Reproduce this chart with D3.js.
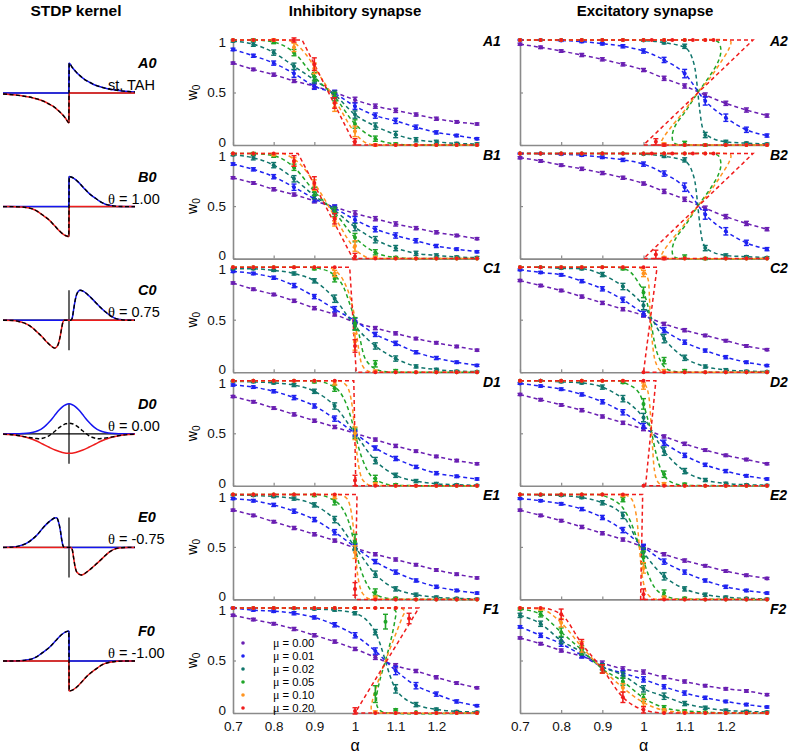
<!DOCTYPE html>
<html><head><meta charset="utf-8">
<script src="https://cdn.jsdelivr.net/npm/d3@7"></script>
<style>
body{margin:0;background:#fff}
svg{display:block}
text{font-family:"Liberation Sans",Arial,sans-serif}
</style>
</head><body>
<svg id="c" width="793" height="754"></svg>
<script>
// ---------------- data ----------------
const alphaGrid = [0.7,0.75,0.8,0.85,0.9,0.95,1.0,1.05,1.1,1.15,1.2,1.25,1.3];
const alphaTicks = [0.7,0.8,0.9,1,1.1,1.2];
const wTicks = [0,0.5,1];
const muValues = ["0.00","0.01","0.02","0.05","0.10","0.20"];
const rowLetters = ["A","B","C","D","E","F"];
const kernelNotes = [["","st. TAH"],["θ"," = 1.00"],["θ"," = 0.75"],["θ"," = 0.00"],["θ"," = -0.75"],["θ"," = -1.00"]];
const columnTitles = ["STDP kernel","Inhibitory synapse","Excitatory synapse"];

// ---- A1 ----
const A1_w = [
 [0.78,0.72,0.67,0.61,0.56,0.5,0.43,0.37,0.33,0.29,0.25,0.22,0.2],
 [0.91,0.85,0.78,0.68,0.56,0.49,0.37,0.28,0.23,0.17,0.12,0.09,0.06],
 [0.99,0.96,0.88,0.75,0.62,0.48,0.29,0.18,0.1,0.05,0.03,0.015,0.01],
 [1,1,0.98,0.88,0.65,0.46,0.2,0.06,0.01,0,0,0,0],
 [1,1,1,0.93,0.73,0.36,0.13,0,0,0,0,0,0],
 [1,1,1,1,0.77,0.4,0.03,0,0,0,0,0,0]];
const A1_e = [
 [0.01,0.012,0.015,0.015,0.02,0.02,0.025,0.02,0.02,0.015,0.015,0.012,0.01],
 [0.012,0.015,0.02,0.035,0.03,0.03,0.03,0.025,0.025,0.02,0.015,0.012,0.01],
 [0.01,0.02,0.025,0.03,0.03,0.035,0.035,0.03,0.03,0.02,0.015,0.01,0.01],
 [0,0.01,0.015,0.03,0.04,0.04,0.04,0.025,0.01,0,0,0,0],
 [0,0,0.01,0.04,0.05,0.04,0.05,0.01,0,0,0,0,0],
 [0,0,0,0.02,0.06,0.05,0.03,0,0,0,0,0,0]];
const A1_c = [null,null,null,null,
 [[0.7,1],[0.83,1],[0.855,0.96],[0.88,0.86],[0.91,0.68],[0.94,0.5],[0.97,0.3],[0.99,0.17],[1.01,0.07],[1.03,0.015],[1.05,0],[1.3,0]],
 [[0.7,1],[0.87,1],[1.0,0],[1.3,0]]];
const A1_x = [];

// ---- B1 ----
const B1_w = [
 [0.77,0.72,0.66,0.61,0.55,0.49,0.43,0.38,0.33,0.29,0.25,0.22,0.19],
 [0.9,0.85,0.78,0.68,0.57,0.48,0.37,0.28,0.22,0.17,0.12,0.09,0.065],
 [0.99,0.96,0.89,0.76,0.6,0.46,0.3,0.18,0.1,0.05,0.03,0.015,0.01],
 [1,1,0.98,0.87,0.64,0.44,0.2,0.06,0.01,0,0,0,0],
 [1,1,0.99,0.92,0.7,0.35,0.12,0.01,0,0,0,0,0],
 [1,1,1,0.93,0.72,0.38,0.02,0,0,0,0,0,0]];
const B1_e = [
 [0.01,0.012,0.015,0.015,0.02,0.02,0.025,0.02,0.02,0.015,0.015,0.012,0.01],
 [0.012,0.015,0.02,0.03,0.03,0.03,0.03,0.025,0.025,0.02,0.015,0.012,0.01],
 [0.01,0.02,0.025,0.03,0.03,0.035,0.035,0.03,0.025,0.02,0.015,0.01,0.01],
 [0,0.01,0.015,0.03,0.04,0.04,0.04,0.025,0.01,0,0,0,0],
 [0,0,0.01,0.04,0.05,0.04,0.05,0.01,0,0,0,0,0],
 [0,0,0,0.05,0.06,0.05,0.03,0,0,0,0,0,0]];
const B1_c = [null,null,null,null,
 [[0.7,1],[0.82,1],[0.845,0.96],[0.87,0.88],[0.9,0.72],[0.935,0.5],[0.96,0.33],[0.98,0.2],[1.0,0.09],[1.02,0.03],[1.04,0],[1.3,0]],
 [[0.7,1],[0.86,1],[0.995,0],[1.3,0]]];
const B1_x = [];

// ---- C1 ----
const C1_w = [
 [0.85,0.79,0.74,0.68,0.61,0.55,0.475,0.42,0.37,0.32,0.28,0.245,0.21],
 [0.96,0.94,0.9,0.825,0.72,0.6,0.49,0.36,0.275,0.19,0.135,0.095,0.065],
 [0.985,0.985,0.97,0.94,0.87,0.7,0.44,0.25,0.13,0.055,0.025,0.01,0.006],
 [1,1,1,1,0.985,0.89,0.46,0.08,0.015,0,0,0,0],
 [1,1,1,1,1,0.94,0.29,0.01,0,0,0,0,0],
 [1,1,1,1,1,1,0.25,0,0,0,0,0,0]];
const C1_e = [
 [0.01,0.012,0.012,0.015,0.015,0.015,0.015,0.015,0.015,0.012,0.012,0.012,0.01],
 [0.01,0.012,0.015,0.02,0.02,0.025,0.025,0.02,0.02,0.015,0.015,0.012,0.01],
 [0.005,0.008,0.01,0.015,0.02,0.035,0.035,0.03,0.025,0.015,0.012,0.008,0.006],
 [0,0,0,0,0.01,0.03,0.06,0.03,0.01,0,0,0,0],
 [0,0,0,0,0,0.03,0.08,0.01,0,0,0,0,0],
 [0,0,0,0,0,0,0.06,0,0,0,0,0,0]];
const C1_c = [null,null,null,
 [[0.7,1],[0.88,1],[0.92,0.98],[0.95,0.92],[0.972,0.81],[0.988,0.64],[1.0,0.5],[1.01,0.36],[1.021,0.17],[1.034,0.08],[1.046,0.04],[1.07,0.008],[1.1,0],[1.3,0]],
 [[0.7,1],[0.93,1],[0.95,0.97],[0.972,0.87],[0.988,0.71],[1.0,0.5],[1.006,0.3],[1.014,0.11],[1.022,0.04],[1.03,0.015],[1.045,0],[1.3,0]],
 [[0.7,1],[0.987,1],[1.003,0],[1.3,0]]];
const C1_x = [];

// ---- D1 ----
const D1_w = [
 [0.85,0.8,0.74,0.68,0.62,0.56,0.5,0.44,0.38,0.33,0.28,0.24,0.21],
 [0.96,0.94,0.9,0.84,0.76,0.64,0.5,0.36,0.26,0.18,0.12,0.09,0.065],
 [0.995,0.99,0.98,0.96,0.9,0.76,0.5,0.24,0.1,0.045,0.02,0.01,0.005],
 [1,1,1,1,0.99,0.93,0.5,0.07,0.01,0,0,0,0],
 [1,1,1,1,1,0.98,0.5,0.02,0,0,0,0,0],
 [1,1,1,1,1,1,0.05,0,0,0,0,0,0]];
const D1_e = [
 [0.01,0.012,0.012,0.015,0.015,0.015,0.015,0.015,0.015,0.012,0.012,0.012,0.01],
 [0.01,0.012,0.015,0.02,0.02,0.025,0.025,0.02,0.02,0.015,0.015,0.012,0.01],
 [0.005,0.008,0.01,0.015,0.02,0.03,0.035,0.03,0.02,0.015,0.012,0.008,0.006],
 [0,0,0,0,0.01,0.03,0.05,0.03,0.01,0,0,0,0],
 [0,0,0,0,0,0.02,0.06,0.01,0,0,0,0,0],
 [0,0,0,0,0,0,0.05,0,0,0,0,0,0]];
const D1_c = [null,null,null,
 [[0.7,1],[0.9,1],[0.94,0.96],[0.97,0.85],[0.99,0.65],[1.0,0.5],[1.01,0.35],[1.03,0.15],[1.06,0.04],[1.1,0.003],[1.3,0]],
 [[0.7,1],[0.96,1],[0.98,0.95],[0.995,0.7],[1.0,0.5],[1.005,0.3],[1.02,0.05],[1.04,0.003],[1.3,0]],
 [[0.7,1],[0.997,1],[1.002,0],[1.3,0]]];
const D1_x = [];

// ---- E1 ----
const E1_w = [
 [0.85,0.8,0.74,0.68,0.62,0.56,0.49,0.43,0.38,0.33,0.28,0.24,0.205],
 [0.96,0.94,0.9,0.84,0.76,0.64,0.5,0.36,0.26,0.18,0.12,0.085,0.06],
 [0.995,0.99,0.98,0.96,0.9,0.76,0.5,0.24,0.1,0.045,0.02,0.01,0.005],
 [1,1,1,1,0.99,0.93,0.55,0.07,0.01,0,0,0,0],
 [1,1,1,1,1,0.98,0.45,0.02,0,0,0,0,0],
 [1,1,1,1,1,1,0.1,0,0,0,0,0,0]];
const E1_e = [
 [0.01,0.012,0.012,0.015,0.015,0.015,0.015,0.015,0.015,0.012,0.012,0.012,0.01],
 [0.01,0.012,0.015,0.02,0.02,0.025,0.025,0.02,0.02,0.015,0.015,0.012,0.01],
 [0.005,0.008,0.01,0.015,0.02,0.03,0.035,0.03,0.02,0.015,0.012,0.008,0.006],
 [0,0,0,0,0.01,0.03,0.07,0.03,0.01,0,0,0,0],
 [0,0,0,0,0,0.02,0.06,0.01,0,0,0,0,0],
 [0,0,0,0,0,0,0.06,0,0,0,0,0,0]];
const E1_c = [null,null,null,
 [[0.7,1],[0.9,1],[0.94,0.96],[0.97,0.86],[0.99,0.67],[1.0,0.5],[1.01,0.34],[1.03,0.14],[1.06,0.03],[1.1,0.002],[1.3,0]],
 [[0.7,1],[0.96,1],[0.98,0.96],[0.994,0.75],[1.0,0.5],[1.006,0.25],[1.02,0.05],[1.04,0.002],[1.3,0]],
 [[0.7,1],[1.005,1],[1.0,0],[1.3,0]]];
const E1_x = [];

// ---- F1 ----
const F1_w = [
 [0.93,0.89,0.85,0.8,0.74,0.68,0.61,0.53,0.45,0.4,0.34,0.285,0.24],
 [1,0.98,0.97,0.95,0.91,0.84,0.74,0.59,0.405,0.26,0.18,0.11,0.07],
 [1,1,1,0.995,0.99,0.98,0.95,0.77,0.23,0.08,0.035,0.015,0.01],
 [1,1,1,1,1,1,1,0.18,0.03,0.01,0,0,0],
 [1,1,1,1,1,1,1,1,1,0,0,0,0],
 [1,1,1,1,1,1,1,1,1,0,0,0,0]];
const F1_e = [
 [0.01,0.012,0.012,0.015,0.015,0.015,0.015,0.02,0.02,0.015,0.015,0.012,0.01],
 [0.005,0.01,0.012,0.015,0.015,0.02,0.025,0.03,0.04,0.03,0.02,0.015,0.01],
 [0,0,0,0.005,0.008,0.01,0.015,0.025,0.04,0.02,0.012,0.008,0.006],
 [0,0,0,0,0,0,0,0.08,0.01,0,0,0,0],
 [0,0,0,0,0,0,0,0,0,0,0,0,0],
 [0,0,0,0,0,0,0,0,0,0,0,0,0]];
const F1_c = [null,null,null,
 [[0.7,1],[1.05,1],[1.085,1],[1.1,0.97],[1.098,0.88],[1.088,0.69],[1.075,0.5],[1.061,0.31],[1.053,0.15],[1.055,0.06],[1.065,0.015],[1.08,0],[1.3,0]],
 [[0.7,1],[1.08,1],[1.112,1],[1.122,0.97],[1.116,0.91],[1.095,0.7],[1.075,0.5],[1.055,0.28],[1.043,0.12],[1.04,0.04],[1.046,0.005],[1.06,0],[1.3,0]],
 [[0.7,1],[1.157,1],[1.0,0],[1.3,0]]];
const F1_x = [[3,1.075,0.87,0.07],[5,1.133,0.9,0.05],[5,1.0,0.02,0.03],[4,1.05,0.01,0.01],[5,1.05,0,0],[4,1.1,0,0],[5,1.1,0,0]];

// ---- A2 ----
const A2_w = [
 [0.96,0.93,0.895,0.857,0.816,0.768,0.714,0.635,0.562,0.476,0.397,0.333,0.28],
 [1,1,0.995,0.985,0.965,0.94,0.895,0.81,0.68,0.42,0.26,0.145,0.09],
 [1,1,1,1,1,1,0.995,0.975,0.94,0.095,0.03,0.018,0.01],
 [1,1,1,1,1,1,1,1,1,0,0,0,0],
 [1,1,1,1,1,1,1,1,1,1,0,0,0],
 [1,1,1,1,1,1,1,1,1,1,0,0,0]];
const A2_e = [
 [0.01,0.012,0.012,0.015,0.015,0.015,0.015,0.02,0.02,0.02,0.02,0.02,0.015],
 [0.005,0.005,0.008,0.01,0.012,0.015,0.02,0.025,0.04,0.04,0.035,0.025,0.015],
 [0,0,0,0,0,0,0.005,0.012,0.02,0.025,0.015,0.01,0.008],
 [0,0,0,0,0,0,0,0,0,0.01,0,0,0],
 [0,0,0,0,0,0,0,0,0,0,0,0,0],
 [0,0,0,0,0,0,0,0,0,0,0,0,0]];
const A2_c = [null,null,
 [[0.7,1],[0.95,1],[1.0,0.995],[1.05,0.975],[1.1,0.93],[1.118,0.83],[1.127,0.68],[1.132,0.5],[1.137,0.32],[1.143,0.17],[1.155,0.09],[1.2,0.03],[1.25,0.018],[1.3,0.01]],
 [[0.7,1],[1.1,1],[1.165,1],[1.182,0.98],[1.188,0.905],[1.183,0.81],[1.163,0.67],[1.132,0.5],[1.102,0.32],[1.078,0.19],[1.07,0.095],[1.072,0.03],[1.082,0.004],[1.1,0],[1.3,0]],
 [[0.7,1],[1.1,1],[1.2,1],[1.212,0.985],[1.208,0.92],[1.188,0.79],[1.16,0.63],[1.132,0.5],[1.098,0.32],[1.065,0.16],[1.047,0.06],[1.043,0.02],[1.05,0.002],[1.07,0],[1.3,0]],
 [[0.7,1],[1.266,1],[1.0,0],[1.3,0]]];
const A2_x = [[3,1.1,0.015,0.02],[4,1.05,0.01,0.01],[4,1.1,0,0],[4,1.15,0,0],[5,1.03,0.03,0.03],[5,1.05,0,0.01],[5,1.1,0,0],[5,1.15,0,0],[5,1.02,1,0],[5,1.07,1,0],[5,1.12,1,0],[5,1.17,1,0]];

// ---- B2 ----
const B2_w = [
 [0.96,0.93,0.89,0.855,0.815,0.77,0.715,0.64,0.565,0.48,0.4,0.335,0.28],
 [1,1,0.995,0.985,0.965,0.94,0.9,0.81,0.68,0.42,0.26,0.15,0.09],
 [1,1,1,1,1,1,0.995,0.975,0.94,0.1,0.03,0.018,0.01],
 [1,1,1,1,1,1,1,1,1,0,0,0,0],
 [1,1,1,1,1,1,1,1,1,1,0,0,0],
 [1,1,1,1,1,1,1,1,1,1,0,0,0]];
const B2_e = [
 [0.01,0.012,0.012,0.015,0.015,0.015,0.015,0.02,0.02,0.02,0.02,0.02,0.015],
 [0.005,0.005,0.008,0.01,0.012,0.015,0.02,0.025,0.04,0.045,0.035,0.025,0.015],
 [0,0,0,0,0,0,0.005,0.012,0.02,0.025,0.015,0.01,0.008],
 [0,0,0,0,0,0,0,0,0,0.01,0,0,0],
 [0,0,0,0,0,0,0,0,0,0,0,0,0],
 [0,0,0,0,0,0,0,0,0,0,0,0,0]];
const B2_c = [null,null,
 [[0.7,1],[0.95,1],[1.0,0.995],[1.05,0.975],[1.1,0.93],[1.118,0.83],[1.127,0.68],[1.132,0.5],[1.137,0.32],[1.143,0.17],[1.155,0.09],[1.2,0.03],[1.25,0.018],[1.3,0.01]],
 [[0.7,1],[1.1,1],[1.165,1],[1.182,0.98],[1.188,0.905],[1.183,0.81],[1.163,0.67],[1.132,0.5],[1.102,0.32],[1.078,0.19],[1.07,0.095],[1.072,0.03],[1.082,0.004],[1.1,0],[1.3,0]],
 [[0.7,1],[1.1,1],[1.2,1],[1.212,0.985],[1.208,0.92],[1.188,0.79],[1.16,0.63],[1.132,0.5],[1.098,0.32],[1.065,0.16],[1.047,0.06],[1.043,0.02],[1.05,0.002],[1.07,0],[1.3,0]],
 [[0.7,1],[1.266,1],[1.0,0],[1.3,0]]];
const B2_x = [[3,1.1,0.015,0.02],[4,1.05,0.01,0.01],[4,1.1,0,0],[4,1.15,0,0],[5,1.03,0.04,0.04],[5,1.05,0,0.01],[5,1.1,0,0],[5,1.15,0,0],[5,1.02,1,0],[5,1.07,1,0],[5,1.12,1,0],[5,1.17,1,0]];

// ---- C2 ----
const C2_w = [
 [0.873,0.825,0.778,0.72,0.66,0.6,0.54,0.46,0.4,0.35,0.3,0.25,0.215],
 [0.975,0.95,0.927,0.867,0.794,0.69,0.556,0.4,0.286,0.206,0.143,0.095,0.063],
 [1,1,0.99,0.985,0.93,0.816,0.635,0.32,0.137,0.054,0.022,0.01,0.006],
 [1,1,1,1,1,0.985,0.76,0.11,0.015,0,0,0,0],
 [1,1,1,1,1,1,0.94,0.015,0,0,0,0,0],
 [1,1,1,1,1,1,1,0,0,0,0,0,0]];
const C2_e = [
 [0.01,0.012,0.012,0.015,0.015,0.015,0.015,0.015,0.015,0.012,0.012,0.012,0.01],
 [0.008,0.01,0.012,0.015,0.02,0.025,0.025,0.025,0.02,0.015,0.015,0.012,0.01],
 [0,0.005,0.008,0.01,0.02,0.03,0.04,0.04,0.025,0.015,0.012,0.008,0.006],
 [0,0,0,0,0,0.01,0.05,0.03,0.01,0,0,0,0],
 [0,0,0,0,0,0,0.03,0.01,0,0,0,0,0],
 [0,0,0,0,0,0,0,0,0,0,0,0,0]];
const C2_c = [null,null,null,
 [[0.7,1],[0.93,1],[0.96,0.975],[0.985,0.87],[1.0,0.76],[1.01,0.64],[1.017,0.5],[1.029,0.24],[1.041,0.11],[1.057,0.03],[1.08,0.005],[1.1,0],[1.3,0]],
 [[0.7,1],[0.985,1],[1.0,0.97],[1.012,0.87],[1.017,0.5],[1.024,0.2],[1.033,0.06],[1.041,0.015],[1.055,0],[1.3,0]],
 [[0.7,1],[1.033,1],[1.0,0],[1.3,0]]];
const C2_x = [[5,1.0,0,0]];

// ---- D2 ----
const D2_w = [
 [0.87,0.82,0.77,0.72,0.66,0.6,0.54,0.47,0.4,0.34,0.29,0.25,0.21],
 [0.975,0.95,0.92,0.87,0.8,0.7,0.57,0.41,0.29,0.2,0.14,0.095,0.065],
 [1,1,0.99,0.98,0.94,0.83,0.65,0.33,0.14,0.055,0.022,0.01,0.006],
 [1,1,1,1,1,0.985,0.78,0.11,0.015,0,0,0,0],
 [1,1,1,1,1,1,0.95,0.02,0,0,0,0,0],
 [1,1,1,1,1,1,1,0,0,0,0,0,0]];
const D2_e = [
 [0.01,0.012,0.012,0.015,0.015,0.015,0.015,0.015,0.015,0.012,0.012,0.012,0.01],
 [0.008,0.01,0.012,0.015,0.02,0.025,0.025,0.025,0.02,0.015,0.015,0.012,0.01],
 [0,0.005,0.008,0.01,0.02,0.03,0.04,0.04,0.025,0.015,0.012,0.008,0.006],
 [0,0,0,0,0,0.01,0.05,0.03,0.01,0,0,0,0],
 [0,0,0,0,0,0,0.03,0.01,0,0,0,0,0],
 [0,0,0,0,0,0,0,0,0,0,0,0,0]];
const D2_c = [null,null,null,
 [[0.7,1],[0.93,1],[0.96,0.97],[0.99,0.88],[1.0,0.78],[1.01,0.64],[1.02,0.5],[1.028,0.35],[1.038,0.2],[1.05,0.1],[1.07,0.03],[1.1,0.004],[1.3,0]],
 [[0.7,1],[0.99,1],[1.003,0.97],[1.013,0.85],[1.02,0.5],[1.025,0.2],[1.033,0.05],[1.043,0.01],[1.055,0],[1.3,0]],
 [[0.7,1],[1.03,1],[1.005,0],[1.3,0]]];
const D2_x = [[5,1.0,0,0]];

// ---- E2 ----
const E2_w = [
 [0.85,0.8,0.75,0.69,0.63,0.57,0.5,0.43,0.37,0.32,0.27,0.23,0.2],
 [0.96,0.94,0.91,0.86,0.78,0.66,0.5,0.36,0.26,0.18,0.12,0.085,0.06],
 [1,0.995,0.99,0.97,0.92,0.8,0.45,0.22,0.1,0.045,0.02,0.01,0.005],
 [1,1,1,1,1,0.95,0.4,0.06,0.01,0,0,0,0],
 [1,1,1,1,1,0.99,0.3,0.02,0,0,0,0,0],
 [1,1,1,1,1,1,0.05,0,0,0,0,0,0]];
const E2_e = [
 [0.01,0.012,0.012,0.015,0.015,0.015,0.015,0.015,0.015,0.012,0.012,0.012,0.01],
 [0.008,0.01,0.012,0.015,0.02,0.025,0.025,0.025,0.02,0.015,0.015,0.012,0.01],
 [0,0.005,0.008,0.01,0.02,0.03,0.04,0.035,0.02,0.015,0.012,0.008,0.006],
 [0,0,0,0,0,0.02,0.06,0.03,0.01,0,0,0,0],
 [0,0,0,0,0,0.01,0.05,0.01,0,0,0,0,0],
 [0,0,0,0,0,0,0.05,0,0,0,0,0,0]];
const E2_c = [null,null,null,
 [[0.7,1],[0.88,1],[0.92,0.96],[0.95,0.87],[0.975,0.68],[0.99,0.5],[1.0,0.37],[1.02,0.16],[1.05,0.04],[1.09,0.002],[1.3,0]],
 [[0.7,1],[0.95,1],[0.97,0.96],[0.984,0.76],[0.99,0.5],[0.996,0.25],[1.01,0.05],[1.03,0.002],[1.3,0]],
 [[0.7,1],[0.998,1],[0.993,0],[1.3,0]]];
const E2_x = [];

// ---- F2 ----
const F2_w = [
 [0.715,0.66,0.595,0.54,0.475,0.42,0.39,0.34,0.3,0.26,0.23,0.21,0.175],
 [0.82,0.74,0.66,0.55,0.44,0.38,0.32,0.25,0.19,0.145,0.11,0.08,0.057],
 [0.93,0.85,0.69,0.58,0.44,0.36,0.23,0.16,0.09,0.05,0.025,0.015,0.01],
 [0.99,0.94,0.77,0.6,0.42,0.3,0.145,0.05,0.02,0.01,0,0,0],
 [1,0.99,0.86,0.63,0.42,0.24,0.1,0.025,0.005,0,0,0,0],
 [1,1,0.94,0.66,0.42,0.15,0.03,0,0,0,0,0,0]];
const F2_e = [
 [0.01,0.012,0.015,0.015,0.02,0.02,0.02,0.015,0.015,0.012,0.012,0.012,0.01],
 [0.012,0.02,0.025,0.025,0.025,0.025,0.025,0.02,0.02,0.015,0.012,0.012,0.01],
 [0.02,0.025,0.03,0.03,0.03,0.03,0.03,0.03,0.02,0.015,0.012,0.01,0.008],
 [0.01,0.025,0.04,0.04,0.035,0.035,0.035,0.02,0.01,0.005,0,0,0],
 [0,0.01,0.04,0.05,0.04,0.04,0.035,0.015,0.005,0,0,0,0],
 [0,0,0.05,0.04,0.04,0.05,0.03,0,0,0,0,0,0]];
const F2_c = [null,null,null,null,null,null];
const F2_x = [];

// ---- STDP kernels: [t, value] ----
const kA_ltp = [[-1,0],[-0.004,0],[0,1],[0.05,0.85],[0.1,0.72],[0.15,0.61],[0.2,0.51],[0.25,0.43],[0.3,0.37],[0.4,0.26],[0.5,0.19],[0.6,0.135],[0.7,0.1],[0.8,0.07],[0.9,0.05],[1,0.035]];
const kA_ltd = [[-1,-0.035],[-0.9,-0.05],[-0.8,-0.07],[-0.7,-0.1],[-0.6,-0.135],[-0.5,-0.19],[-0.4,-0.26],[-0.3,-0.37],[-0.25,-0.43],[-0.2,-0.51],[-0.15,-0.61],[-0.1,-0.72],[-0.05,-0.85],[0,-1],[0.004,0],[1,0]];
const kB_ltp = [[-1,0],[-0.004,0],[0,1],[0.05,0.97],[0.1,0.9],[0.15,0.8],[0.2,0.68],[0.25,0.56],[0.3,0.45],[0.35,0.36],[0.4,0.28],[0.45,0.2],[0.5,0.13],[0.55,0.08],[0.6,0.05],[0.65,0.03],[0.7,0.015],[0.8,0.003],[0.9,0],[1,0]];
const kB_ltd = [[-1,0],[-0.9,0],[-0.8,-0.003],[-0.7,-0.015],[-0.65,-0.03],[-0.6,-0.05],[-0.55,-0.08],[-0.5,-0.13],[-0.45,-0.2],[-0.4,-0.28],[-0.35,-0.36],[-0.3,-0.45],[-0.25,-0.56],[-0.2,-0.68],[-0.15,-0.8],[-0.1,-0.9],[-0.05,-0.97],[0,-1],[0.004,0],[1,0]];
const kC_ltp = [[-1,0],[0.03,0],[0.05,0.08],[0.07,0.35],[0.09,0.62],[0.12,0.88],[0.167,1],[0.22,0.96],[0.27,0.88],[0.32,0.78],[0.4,0.6],[0.47,0.44],[0.55,0.28],[0.62,0.16],[0.7,0.06],[0.8,0.015],[0.9,0],[1,0]];
const kC_ltd = [[-1,0],[-0.85,-0.01],[-0.75,-0.05],[-0.64,-0.13],[-0.55,-0.26],[-0.49,-0.38],[-0.4,-0.57],[-0.34,-0.72],[-0.27,-0.86],[-0.22,-0.93],[-0.19,-0.9],[-0.16,-0.78],[-0.13,-0.5],[-0.11,-0.25],[-0.09,-0.05],[-0.07,0],[1,0]];
const kD_ltp = [[-1,0],[-0.8,0],[-0.7,0.006],[-0.6,0.025],[-0.5,0.075],[-0.45,0.12],[-0.4,0.19],[-0.35,0.28],[-0.3,0.39],[-0.25,0.52],[-0.2,0.66],[-0.15,0.79],[-0.1,0.9],[-0.05,0.97],[0,1],[0.05,0.97],[0.1,0.9],[0.15,0.79],[0.2,0.66],[0.25,0.52],[0.3,0.39],[0.35,0.28],[0.4,0.19],[0.45,0.12],[0.5,0.075],[0.6,0.025],[0.7,0.006],[0.8,0],[1,0]];
const kD_ltd = [[-1,-0.011],[-0.9,-0.024],[-0.8,-0.047],[-0.7,-0.09],[-0.6,-0.15],[-0.5,-0.23],[-0.4,-0.34],[-0.3,-0.45],[-0.2,-0.55],[-0.1,-0.62],[0,-0.65],[0.1,-0.62],[0.2,-0.55],[0.3,-0.45],[0.4,-0.34],[0.5,-0.23],[0.6,-0.15],[0.7,-0.09],[0.8,-0.047],[0.9,-0.024],[1,-0.011]];
const kE_ltp = [[-1,0],[-0.85,0.01],[-0.75,0.05],[-0.64,0.14],[-0.54,0.3],[-0.47,0.45],[-0.39,0.66],[-0.33,0.8],[-0.27,0.91],[-0.22,0.98],[-0.19,0.99],[-0.16,0.86],[-0.13,0.55],[-0.11,0.25],[-0.09,0.05],[-0.07,0],[1,0]];
const kE_ltd = [[-1,0],[0.03,0],[0.05,-0.08],[0.07,-0.35],[0.09,-0.62],[0.12,-0.83],[0.186,-0.92],[0.24,-0.87],[0.3,-0.77],[0.38,-0.62],[0.47,-0.44],[0.55,-0.27],[0.62,-0.14],[0.7,-0.05],[0.8,-0.012],[0.9,0],[1,0]];
const kF_ltp = [[-1,0],[-0.9,0],[-0.8,0.003],[-0.7,0.015],[-0.65,0.03],[-0.6,0.05],[-0.55,0.08],[-0.5,0.13],[-0.45,0.2],[-0.4,0.28],[-0.35,0.36],[-0.3,0.45],[-0.25,0.56],[-0.2,0.68],[-0.15,0.8],[-0.1,0.9],[-0.05,0.97],[0,1],[0.004,0],[1,0]];
const kF_ltd = [[-1,0],[-0.004,0],[0,-1],[0.05,-0.97],[0.1,-0.9],[0.15,-0.8],[0.2,-0.68],[0.25,-0.56],[0.3,-0.45],[0.35,-0.36],[0.4,-0.28],[0.45,-0.2],[0.5,-0.13],[0.55,-0.08],[0.6,-0.05],[0.65,-0.03],[0.7,-0.015],[0.8,-0.003],[0.9,0],[1,0]];

// ---------------- drawing ----------------
const colors = ["#6a1fb2","#1f22f0","#10756c","#1fa527","#ff9420","#f01c1c"];
const gray = "#8a8a8a";
const svg = d3.select("#c");

const panels = [
 {row:0,col:1,w:A1_w,e:A1_e,c:A1_c,x:A1_x},{row:0,col:2,w:A2_w,e:A2_e,c:A2_c,x:A2_x},
 {row:1,col:1,w:B1_w,e:B1_e,c:B1_c,x:B1_x},{row:1,col:2,w:B2_w,e:B2_e,c:B2_c,x:B2_x},
 {row:2,col:1,w:C1_w,e:C1_e,c:C1_c,x:C1_x},{row:2,col:2,w:C2_w,e:C2_e,c:C2_c,x:C2_x},
 {row:3,col:1,w:D1_w,e:D1_e,c:D1_c,x:D1_x},{row:3,col:2,w:D2_w,e:D2_e,c:D2_c,x:D2_x},
 {row:4,col:1,w:E1_w,e:E1_e,c:E1_c,x:E1_x},{row:4,col:2,w:E2_w,e:E2_e,c:E2_c,x:E2_x},
 {row:5,col:1,w:F1_w,e:F1_e,c:F1_c,x:F1_x},{row:5,col:2,w:F2_w,e:F2_e,c:F2_c,x:F2_x}];
const kernels = [[kA_ltp,kA_ltd],[kB_ltp,kB_ltd],[kC_ltp,kC_ltd],[kD_ltp,kD_ltd],[kE_ltp,kE_ltd],[kF_ltp,kF_ltd]];

const colRange = {1:[233,477],2:[520,767]};
const rowStep = 113.6;

function increasing(p){ for(let i=1;i<p.length;i++) if(p[i][0]<=p[i-1][0]) return false; return true; }

panels.forEach(p=>{
  const y0 = 145 + p.row*rowStep, y1 = y0 - 105;
  const x = d3.scaleLinear().domain([0.7,1.3]).range(colRange[p.col]);
  const y = d3.scaleLinear().domain([0,1]).range([y0,y1]);
  const g = svg.append("g");

  const ya = g.append("g").attr("transform",`translate(${x(0.7)},0)`)
    .call(d3.axisLeft(y).tickValues(wTicks).tickSize(-3).tickSizeOuter(0).tickPadding(7)
      .tickFormat(p.col===1 ? d3.format("") : ""));
  const xa = g.append("g").attr("transform",`translate(0,${y0})`)
    .call(d3.axisBottom(x).tickValues(alphaTicks).tickSize(-3).tickSizeOuter(0).tickPadding(8)
      .tickFormat(p.row===5 ? d3.format("") : ""));
  [ya,xa].forEach(a=>{
    a.select(".domain").attr("stroke",gray).attr("stroke-width",1.6);
    a.selectAll(".tick line").attr("stroke",gray).attr("stroke-width",1.2);
    a.selectAll(".tick text").attr("fill","#111").attr("font-size",13.5).attr("font-family","Liberation Sans, Arial, sans-serif");
  });
  // nudge the stacked "0" / "1" labels of neighbouring panels apart
  ya.selectAll(".tick text").attr("dy", d => d===0 ? "0.1em" : (d===1 ? "0.5em" : "0.32em"));

  const line = d3.line().x(d=>x(d[0])).y(d=>y(d[1]));
  for(let s=0;s<6;s++){
    let pts, curve;
    if(p.c[s]){
      pts = p.c[s];
      curve = pts.length<=4 ? d3.curveLinear : (increasing(pts) ? d3.curveMonotoneX : d3.curveCatmullRom.alpha(0.5));
    } else {
      pts = alphaGrid.map((a,i)=>[a,p.w[s][i]]).filter(d=>d[1]!=null);
      curve = d3.curveMonotoneX;
    }
    g.append("path").attr("d",line.curve(curve)(pts)).attr("fill","none")
      .attr("stroke",colors[s]).attr("stroke-width",1.5).attr("stroke-dasharray","4,3");
  }
  function marker(a,v,e,s){
    const cx = x(a), c = colors[s];
    if(e>0){
      const ya_ = y(v-e), yb_ = y(v+e);
      g.append("line").attr("x1",cx).attr("x2",cx).attr("y1",ya_).attr("y2",yb_).attr("stroke",c).attr("stroke-width",1.6);
      g.append("line").attr("x1",cx-2.5).attr("x2",cx+2.5).attr("y1",ya_).attr("y2",ya_).attr("stroke",c).attr("stroke-width",1.4);
      g.append("line").attr("x1",cx-2.5).attr("x2",cx+2.5).attr("y1",yb_).attr("y2",yb_).attr("stroke",c).attr("stroke-width",1.4);
    }
    g.append("circle").attr("cx",cx).attr("cy",y(v)).attr("r",2).attr("fill",c);
  }
  for(let s=0;s<6;s++){
    alphaGrid.forEach((a,i)=>{ const v=p.w[s][i]; if(v==null) return; marker(a,v,p.e[s][i],s); });
  }
  p.x.forEach(d=>marker(d[1],d[2],d[3],d[0]));

  // panel label
  g.append("text").attr("x", p.col===1 ? 483 : 770).attr("y", y1+6)
    .attr("font-size",14).attr("font-weight","bold").attr("font-style","italic")
    .text(rowLetters[p.row]+p.col);

  if(p.col===1){
    const t = g.append("text").attr("transform",`translate(197,${(y0+y1)/2}) rotate(-90)`)
      .attr("text-anchor","middle").attr("font-size",14);
    t.append("tspan").text("w");
    t.append("tspan").attr("font-size",10).attr("dy",3).text("0");
  }
  if(p.row===5){
    g.append("text").attr("x",x(1)).attr("y",751).attr("text-anchor","middle")
      .attr("font-size",16).attr("font-family","Liberation Serif, serif").text("α");
  }
  if(p.row===5 && p.col===1){
    muValues.forEach((m,i)=>{
      const ly = 643 + i*13;
      g.append("circle").attr("cx",243).attr("cy",ly).attr("r",1.8).attr("fill",colors[i]);
      const t = g.append("text").attr("x",273).attr("y",ly+4).attr("font-size",11.3);
      t.append("tspan").attr("font-family","Liberation Serif, serif").attr("font-size",12).text("μ");
      t.append("tspan").text(" = "+m);
    });
  }
});

// kernels
const kx = d3.scaleLinear().domain([-1,1]).range([3,135]);
function interp(pts,t){
  for(let i=0;i<pts.length-1;i++){
    const [t0,v0]=pts[i],[t1,v1]=pts[i+1];
    if(t>=t0 && t<=t1) return t1===t0 ? v1 : v0+(v1-v0)*(t-t0)/(t1-t0);
  }
  return 0;
}
kernels.forEach((k,r)=>{
  const base = 93 + r*rowStep;
  const ky = d3.scaleLinear().domain([-1,1]).range([base+30,base-30]);
  const g = svg.append("g");
  g.append("line").attr("x1",kx(-1)).attr("x2",kx(1)).attr("y1",ky(0)).attr("y2",ky(0)).attr("stroke","#000").attr("stroke-width",1.2);
  g.append("line").attr("x1",kx(0)).attr("x2",kx(0)).attr("y1",ky(-1)).attr("y2",ky(1)).attr("stroke","#000").attr("stroke-width",1.2);
  const line = d3.line().x(d=>kx(d[0])).y(d=>ky(d[1])).curve(d3.curveMonotoneX);
  g.append("path").attr("d",line(k[0])).attr("fill","none").attr("stroke","#1414f0").attr("stroke-width",1.5);
  g.append("path").attr("d",line(k[1])).attr("fill","none").attr("stroke","#ee1c1c").attr("stroke-width",1.5);
  const ts = Array.from(new Set([...k[0].map(d=>d[0]),...k[1].map(d=>d[0])])).sort((a,b)=>a-b);
  const sum = ts.map(t=>[t, interp(k[0],t)+interp(k[1],t)]);
  g.append("path").attr("d",line(sum)).attr("fill","none").attr("stroke","#000").attr("stroke-width",1.4).attr("stroke-dasharray","4,2.5");
  g.append("text").attr("x",138).attr("y",base-25).attr("font-size",14.5).attr("font-weight","bold").attr("font-style","italic").text(rowLetters[r]+"0");
  const t = g.append("text").attr("x",108).attr("y",base-3).attr("font-size",14.5);
  if(kernelNotes[r][0]) t.append("tspan").attr("font-family","Liberation Serif, serif").text(kernelNotes[r][0]);
  t.append("tspan").text(kernelNotes[r][1]);
});

// column titles
[[76,columnTitles[0],15.5],[355,columnTitles[1],15],[645,columnTitles[2],15]].forEach(d=>{
  svg.append("text").attr("x",d[0]).attr("y",16).attr("text-anchor","middle")
    .attr("font-size",d[2]).attr("font-weight","bold").text(d[1]);
});
</script>
</body></html>
